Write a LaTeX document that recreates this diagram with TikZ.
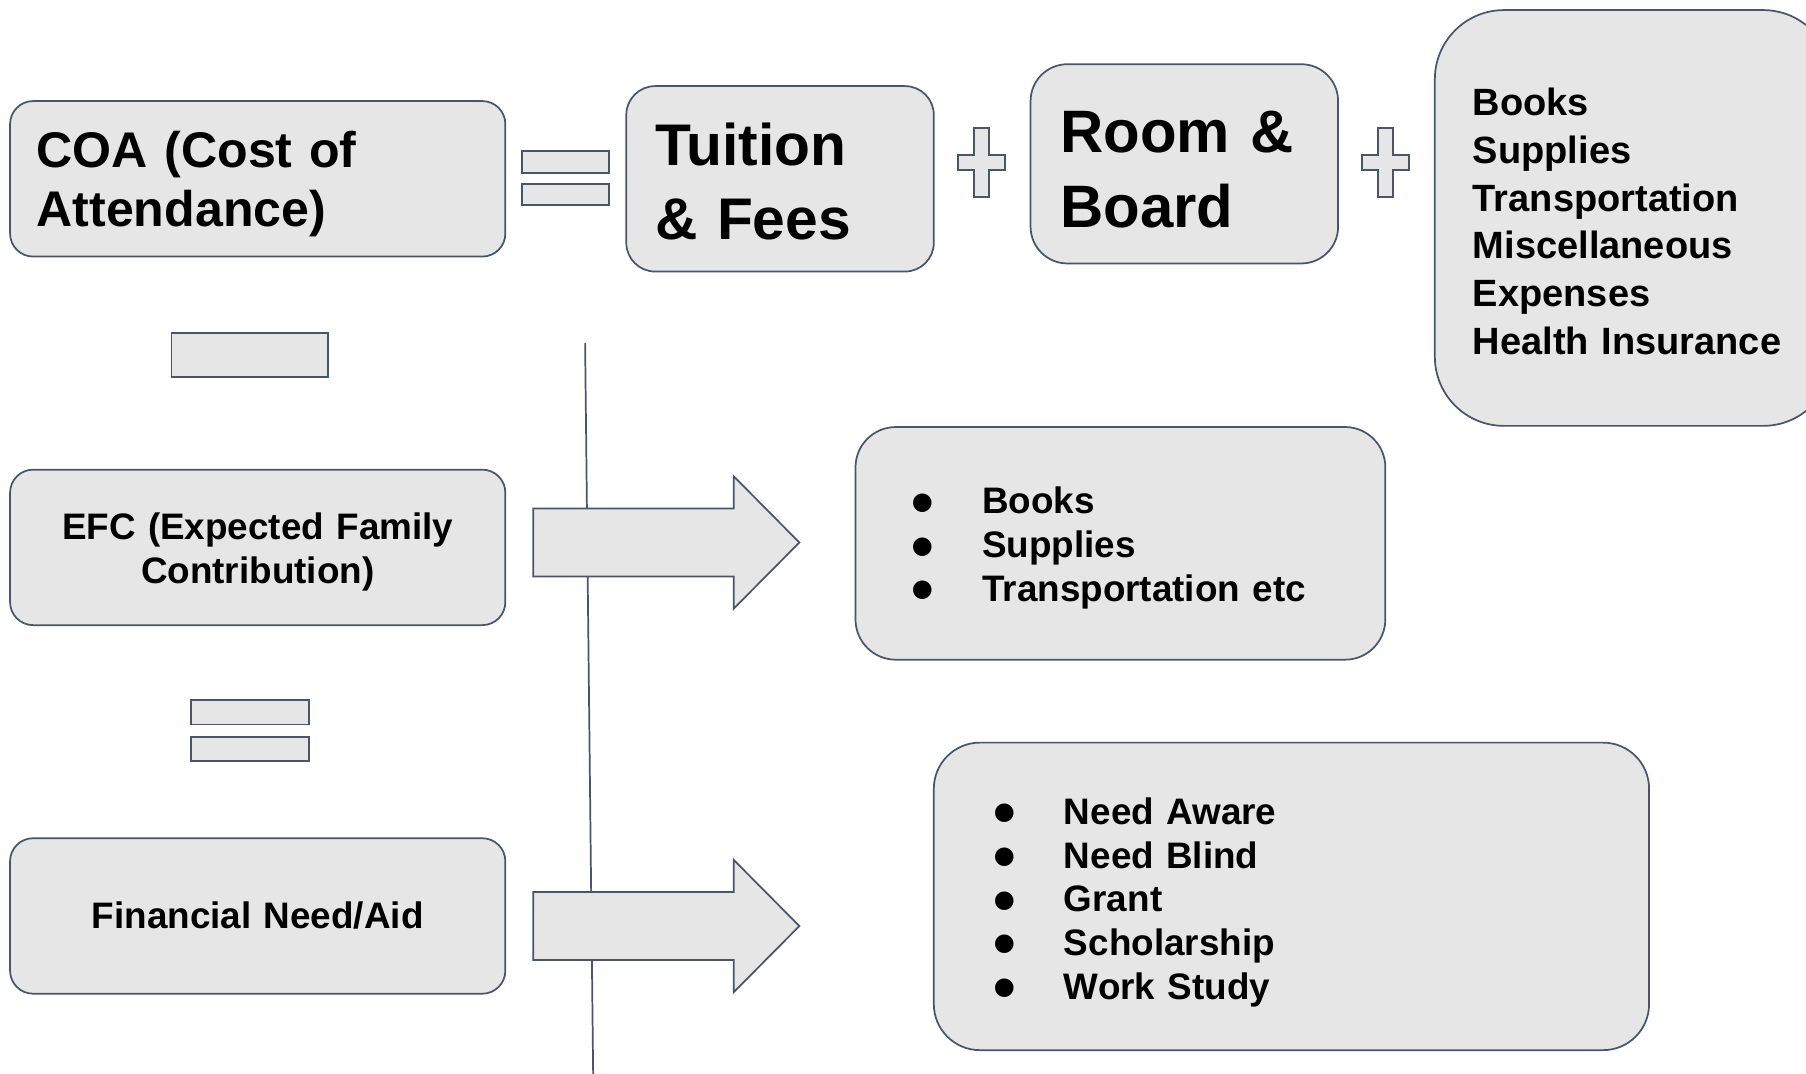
\documentclass[tikz,border=0pt]{standalone}
\usepackage{fontspec}
\setmainfont{Liberation Sans}
\definecolor{edge}{RGB}{74,85,104}
\definecolor{boxfill}{RGB}{230,230,230}
\newcommand{\bul}{\smash{\raisebox{-9pt}{\scalebox{1.75}{\textbullet}}}}
\tikzset{
    box/.style = {draw=edge, fill=boxfill, line width=1.5pt, rounded corners=#1, anchor=north west, inner ysep=0pt},
    lower/.style = {execute at begin node={\rule{0pt}{#1}}},
    bar/.style = {draw=edge, fill=boxfill, line width=1.5pt},
    plus/.pic = {
    \draw[bar] (-6.5,-30) -- (6.5,-30) -- (6.5,-6.5) -- (20.5,-6.5) -- (20.5,6.5) -- (6.5,6.5) -- (6.5,30)
        -- (-6.5,30) -- (-6.5,6.5) -- (-20.5,6.5) -- (-20.5,-6.5) -- (-6.5,-6.5) -- cycle;
    },
    bigarrow/.pic = {
    \draw[bar] (0,-29.5) -- (174,-29.5) -- (174,-57.5) -- (231,0) -- (174,57.5) -- (174,29.5) -- (0,29.5) -- cycle;
    }
}

\begin{document}
\begin{tikzpicture}[x=1pt,y=-1pt,line join=miter]
\useasboundingbox[fill=white] (0,0) rectangle (1568,932);

\node[box=20pt, lower=41pt, minimum width=430pt, minimum height=135pt, text width=384pt, inner xsep=23pt, align=left,
    font=\bfseries\fontsize{43.5}{51}\selectfont] (coa) at (8,87) {COA (Cost of\\Attendance)};
\node[box=25pt, lower=41pt, minimum width=267pt, minimum height=161pt, text width=217pt, inner xsep=25pt, align=left,
    font=\bfseries\fontsize{51}{64}\selectfont] (tuition) at (543,74) {Tuition\\\& Fees};
\node[box=32pt, lower=46pt, minimum width=267pt, minimum height=173pt, text width=215pt, inner xsep=26pt, align=left,
    font=\bfseries\fontsize{52}{65}\selectfont] (room) at (894,55) {Room \&\\Board};
\node[box=60pt, lower=30pt, minimum width=345pt, minimum height=361pt, text width=279pt, inner xsep=33pt, align=left,
    font=\bfseries\fontsize{33}{41.5}\selectfont] (extras) at (1245,8)
    {Books\\Supplies\\Transportation\\Miscellaneous\\Expenses\\Health Insurance};

\node[box=20pt, lower=31.5pt, minimum width=430pt, minimum height=135pt, text width=400pt, inner xsep=15pt, align=center,
    font=\bfseries\fontsize{32}{38}\selectfont] (efc) at (8,407) {EFC (Expected Family\\Contribution)};
\node[box=20pt, minimum width=430pt, minimum height=135pt, text width=400pt, inner xsep=15pt, align=center,
    font=\bfseries\fontsize{32}{38}\selectfont] (need) at (8,727) {Financial Need/Aid};

\node[box=35pt, lower=31.5pt, minimum width=460pt, minimum height=202pt, text width=362pt, inner xsep=49pt, align=left,
    font=\bfseries\fontsize{32}{38}\selectfont] (costlist) at (742,370)
    {\makebox[61pt][l]{\bul}Books\\\makebox[61pt][l]{\bul}Supplies\\\makebox[61pt][l]{\bul}Transportation etc};
\node[box=40pt, lower=33.5pt, minimum width=621pt, minimum height=267pt, text width=518pt, inner xsep=51.5pt, align=left,
    font=\bfseries\fontsize{32}{38}\selectfont] (aidlist) at (810,644)
    {\makebox[61.5pt][l]{\bul}Need Aware\\\makebox[61.5pt][l]{\bul}Need Blind\\\makebox[61.5pt][l]{\bul}Grant\\
     \makebox[61.5pt][l]{\bul}Scholarship\\\makebox[61.5pt][l]{\bul}Work Study};

\draw[bar] (453,131) rectangle (529,150);
\draw[bar] (453,160) rectangle (529,178);
\path (852,141) pic {plus};
\path (1203,141) pic {plus};

\draw[bar] (149,289) rectangle (285,327);
\draw[bar] (166,608) rectangle (268,629);
\draw[bar] (166,640) rectangle (268,661);

\draw[edge, line width=1.5pt] (508,298) -- (515,934);

\path (463,471) pic {bigarrow};
\path (463,804) pic {bigarrow};
\end{tikzpicture}
\end{document}
